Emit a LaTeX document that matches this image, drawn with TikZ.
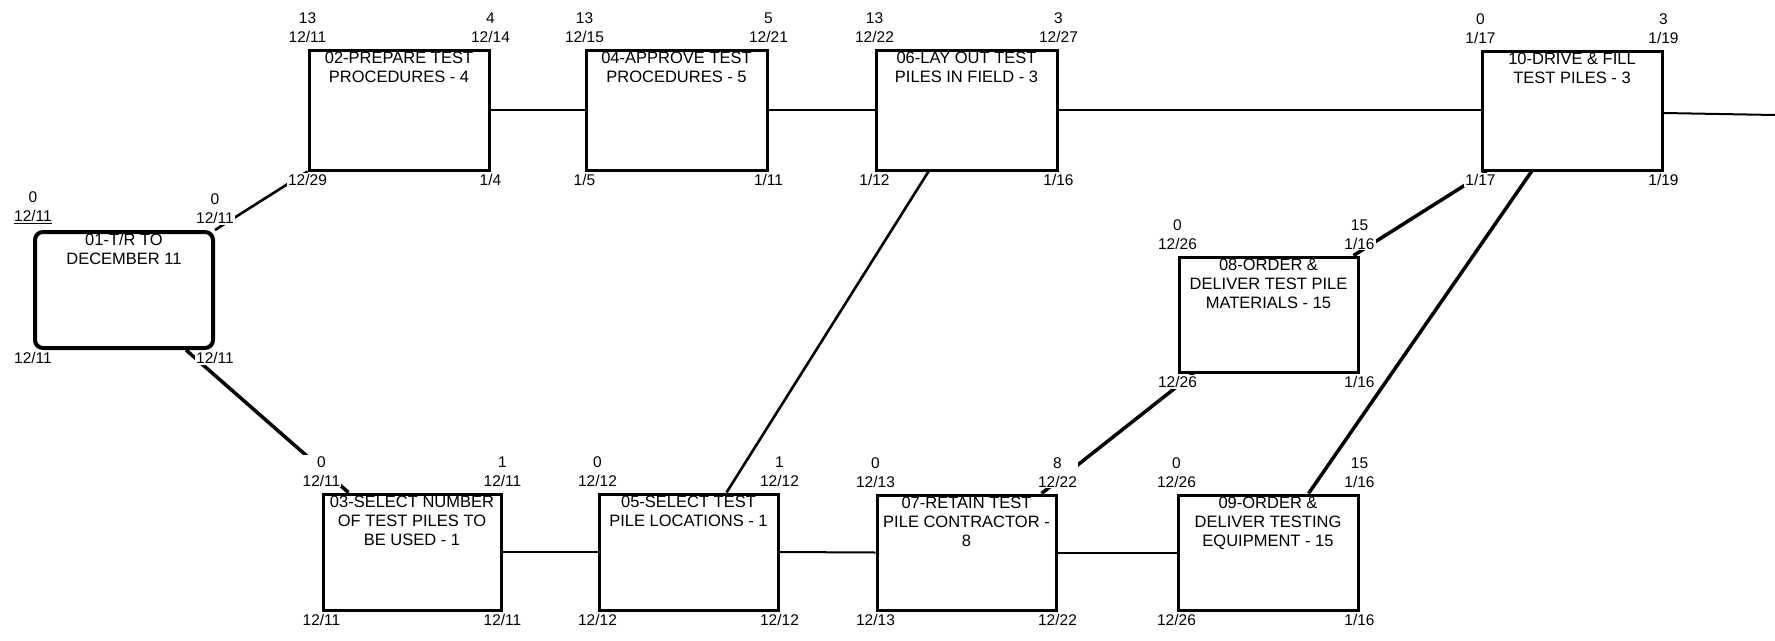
\documentclass[tikz,border=0pt]{standalone}
\usepackage{fontspec}
\setmainfont{Liberation Sans}
\usetikzlibrary{fit,calc}
\tikzset{
  box/.style={draw, line width=3pt, inner sep=0pt, rectangle},
  startbox/.style={box, line width=4pt, rounded corners=8pt},
  boxtext/.style={align=center, inner sep=1pt, font=\fontsize{16.5}{19}\selectfont, anchor=north},
  corner/.style={align=center, inner sep=1pt, fill=white, font=\fontsize{15.5}{19}\selectfont},
  toplab/.style={corner, anchor=south, yshift=5pt},
  botlab/.style={corner, anchor=north, yshift=-1.5pt},
  link/.style={line width=2pt},
  diag/.style={line width=3.5pt},
  thindiag/.style={line width=2.6pt}
}
\newcommand\actbox[5][box]{%
  \node[#1, fit={#3 #4}] (#2) {};
  \node[boxtext] (#2t) at ([yshift=-2pt]#2.north) {#5};}
\newcommand\cornerlabs[7]{%
  \node[toplab] (#1tl) at (#1.north west) {#2\\#3};
  \node[toplab] (#1tr) at (#1.north east) {#4\\#5};
  \node[botlab] (#1bl) at (#1.south west) {#6};
  \node[botlab] (#1br) at (#1.south east) {#7};}
\begin{document}
\begin{tikzpicture}[x=1pt,y=-1pt]
\useasboundingbox[fill=white] (0,0) rectangle (1775,640);
% boxes
\actbox[startbox]{b01}{(35,232)}{(213,348)}{01-T/R TO\\DECEMBER 11}
\actbox{b02}{(309,50)}{(489,170)}{02-PREPARE TEST\\PROCEDURES - 4}
\actbox{b04}{(586,50)}{(767,170)}{04-APPROVE TEST\\PROCEDURES - 5}
\actbox{b06}{(876,50)}{(1057,170)}{06-LAY OUT TEST\\PILES IN FIELD - 3}
\actbox{b10}{(1482,51)}{(1662,170)}{10-DRIVE \& FILL\\TEST PILES - 3}
\actbox{b08}{(1179,257)}{(1358,372)}{08-ORDER \&\\DELIVER TEST PILE\\MATERIALS - 15}
\actbox{b03}{(323,494)}{(501,610)}{03-SELECT NUMBER\\OF TEST PILES TO\\BE USED - 1}
\actbox{b05}{(599,494)}{(778,610)}{05-SELECT TEST\\PILE LOCATIONS - 1}
\actbox{b07}{(877,495)}{(1056,610)}{07-RETAIN TEST\\PILE CONTRACTOR -\\8}
\actbox{b09}{(1178,495)}{(1358,610)}{09-ORDER \&\\DELIVER TESTING\\EQUIPMENT - 15}
% connectors
\draw[thindiag] (b01.north east) -- (b02.south west);
\draw[diag] ($(b01.south east)+(-29,0)$) -- ($(b03.north west)+(27,0)$);
\draw[link] (b02.east) -- (b04.west);
\draw[link] (b04.east) -- (b06.west);
\draw[link] (b06.east) -- (b06.east -| b10.west);
\coordinate (endR) at (1775,115);
\draw[link] ([yshift=-2.5pt]b10.east) -- (endR);
\draw[link] (b03.east) -- (b05.west);
\draw[link] (b05.east) -- (b07.west);
\draw[link] (b07.east) -- (b09.west);
\draw[thindiag] ($(b05.north west)+(129,0)$) -- ($(b06.south west)+(54,0)$);
\draw[diag] ($(b07.north east)+(-16,0)$) -- ($(b08.south west)+(16,0)$);
\draw[diag] ($(b08.north east)+(-6,0)$) -- ($(b10.south west)+(6,0)$);
\draw[diag] ($(b09.north west)+(132,0)$) -- ($(b10.south west)+(51,0)$);
% corner labels
\cornerlabs{b01}{0}{\underline{12/11}}{0}{12/11}{12/11}{12/11}
\cornerlabs{b02}{13}{12/11}{4}{12/14}{12/29}{1/4}
\cornerlabs{b04}{13}{12/15}{5}{12/21}{1/5}{1/11}
\cornerlabs{b06}{13}{12/22}{3}{12/27}{1/12}{1/16}
\cornerlabs{b10}{0}{1/17}{3}{1/19}{1/17}{1/19}
\cornerlabs{b08}{0}{12/26}{15}{1/16}{12/26}{1/16}
\cornerlabs{b03}{0}{12/11}{1}{12/11}{12/11}{12/11}
\cornerlabs{b05}{0}{12/12}{1}{12/12}{12/12}{12/12}
\cornerlabs{b07}{0}{12/13}{8}{12/22}{12/13}{12/22}
\cornerlabs{b09}{0}{12/26}{15}{1/16}{12/26}{1/16}
\end{tikzpicture}
\end{document}
